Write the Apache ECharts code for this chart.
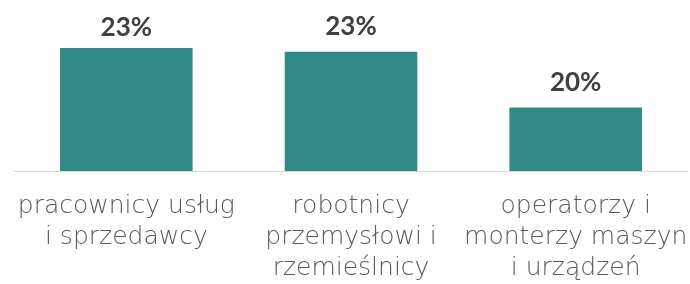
<!DOCTYPE html>
<html><head><meta charset="utf-8">
<script src="https://cdn.jsdelivr.net/npm/echarts@6/dist/echarts.min.js"></script>
<style>html,body{margin:0;padding:0;background:#fff}#c{width:690px;height:284px}</style>
</head><body><div id="c"></div>
<script>
const categories = ['pracownicy usług\ni sprzedawcy', 'robotnicy\nprzemysłowi i\nrzemieślnicy', 'operatorzy i\nmonterzy maszyn\ni urządzeń'];
const values = [23.2, 23.0, 20.2];
const labelTexts = ['23%', '23%', '20%'];
const labelDistances = [7, 12, 12];

const chart = echarts.init(document.getElementById('c'), null, {renderer: 'canvas'});
chart.setOption({
  animation: false,
  grid: {left: 14, right: 0, top: 32, bottom: 112},
  xAxis: {
    type: 'category',
    data: categories,
    axisTick: {show: false},
    axisLine: {lineStyle: {color: '#d9d9d9', width: 1}},
    axisLabel: {
      interval: 0,
      margin: 20,
      fontFamily: 'DejaVu Sans',
      fontWeight: 200,
      fontSize: 25,
      lineHeight: 31,
      color: '#595959',
      align: 'center'
    }
  },
  yAxis: {type: 'value', min: 17, max: 24, show: false, splitLine: {show: false}},
  series: [{
    type: 'bar',
    barWidth: '59%',
    data: values.map((v, i) => ({
      value: v,
      label: {
        show: true,
        position: 'top',
        distance: labelDistances[i],
        formatter: labelTexts[i],
        fontFamily: 'Lato',
        fontWeight: 'bold',
        fontSize: 26,
        color: '#404040'
      }
    })),
    itemStyle: {color: '#318A87'}
  }]
});
</script></body></html>
